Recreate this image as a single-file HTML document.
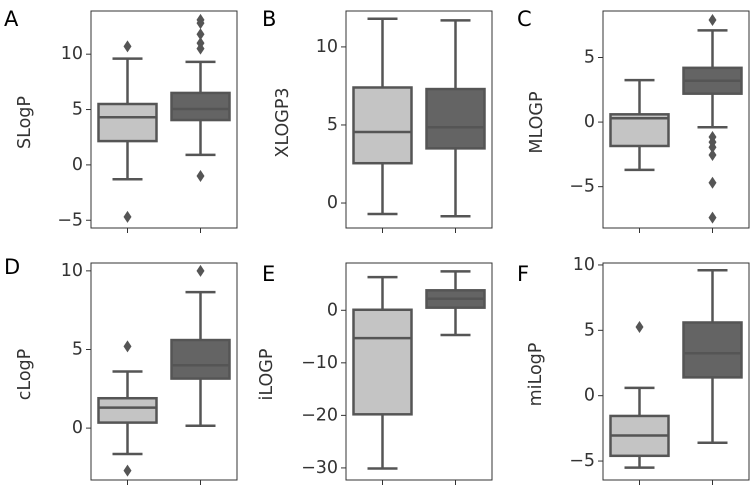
<!DOCTYPE html>
<html><head><meta charset="utf-8"><style>
body{margin:0;background:#fff;}
svg{display:block;font-family:"DejaVu Sans","Liberation Sans",sans-serif;}
</style></head><body>
<svg id="chart" width="751" height="490" viewBox="0 0 751 490" xmlns="http://www.w3.org/2000/svg"></svg>
<script>
// Data per panel: [whiskerLow, Q1, median, Q3, whiskerHigh]
const panelLetters = ["A","B","C","D","E","F"];
const yLabels = ["SLogP","XLOGP3","MLOGP","cLogP","iLOGP","miLogP"];
const tickValsA = [-5,0,5,10];
const tickValsB = [0,5,10];
const tickValsC = [-5,0,5];
const tickValsD = [0,5,10];
const tickValsE = [-30,-20,-10,0];
const tickValsF = [-5,0,5,10];
const yRanges = [[-5.7,13.9],[-1.6,12.3],[-8.2,8.6],[-3.3,10.5],[-32.3,9.0],[-6.45,10.15]];
const statsLight = [
  [-1.3,2.15,4.3,5.5,9.6],
  [-0.7,2.55,4.55,7.4,11.8],
  [-3.7,-1.85,0.3,0.6,3.25],
  [-1.65,0.35,1.3,1.9,3.6],
  [-30.1,-19.8,-5.3,0.1,6.3],
  [-5.5,-4.6,-3.05,-1.55,0.6]
];
const statsDark = [
  [0.9,4.05,5.05,6.5,9.3],
  [-0.85,3.5,4.85,7.3,11.7],
  [-0.4,2.2,3.2,4.2,7.1],
  [0.15,3.15,4.0,5.6,8.65],
  [-4.7,0.5,2.2,3.8,7.4],
  [-3.6,1.4,3.25,5.6,9.6]
];
const outliersLight = [[10.7,-4.7],[],[],[5.2,-2.7],[],[5.25]];
const outliersDark = [[10.5,11.0,11.8,12.8,13.1,-1.0],[],[7.9,-1.15,-1.55,-1.95,-2.55,-4.7,-7.4],[10.0],[],[]];
const tickSets = [tickValsA,tickValsB,tickValsC,tickValsD,tickValsE,tickValsF];

const NS="http://www.w3.org/2000/svg";
const svg=document.getElementById('chart');
function mk(tag,attrs,parent){const e=document.createElementNS(NS,tag);for(const k in attrs)e.setAttribute(k,attrs[k]);(parent||svg).appendChild(e);return e;}

const axLeft=[91,346,603,91,346,603];
const axTop=[11,11,11,263,263,263];
const axW=146, axH=217;
const letterPos=[[4,26],[262,26],[517,26],[4,274],[262,281],[517,281]];
const labelX=[25,283,537,25,267,536];

for(let p=0;p<6;p++){
  const g=mk('g',{});
  
  
  const L=axLeft[p],T=axTop[p],B=T+axH;
  const [lo,hi]=yRanges[p];
  const y=v=>B-(v-lo)/(hi-lo)*axH;
  const x=i=>L+axW/4+i*axW/2;
  const lt=mk('text',{x:letterPos[p][0],y:letterPos[p][1],'font-size':21,fill:'#000'},g);
  lt.textContent=panelLetters[p];
  
  
  const cy=T+axH/2+3;
  const yl=mk('text',{x:labelX[p],y:cy,'font-size':17.5,fill:'#333','text-anchor':'middle','dominant-baseline':'central',transform:`rotate(-90 ${labelX[p]} ${cy})`},g);
  yl.textContent=yLabels[p];
  
  
  tickSets[p].forEach(v=>{
    const yy=y(v);
    mk('line',{x1:L-5,x2:L,y1:yy,y2:yy,stroke:'#333','stroke-width':1},g);
    const t=mk('text',{x:L-8,y:yy,'font-size':17.5,fill:'#333','text-anchor':'end','dominant-baseline':'central'},g);
    t.textContent=(v<0?'\u2212'+Math.abs(v):String(v));
    
    
  });
  [0,1].forEach(i=>mk('line',{x1:x(i),x2:x(i),y1:B,y2:B+5,stroke:'#333','stroke-width':1},g));
  [[statsLight[p],outliersLight[p],'#c4c4c4'],[statsDark[p],outliersDark[p],'#646464']].forEach((d,i)=>{
    const [wl,q1,md,q3,wh]=d[0];
    const cx=x(i), hw=29, cw=15;
    const bg=mk('g',{},g);
    
    
    const st={stroke:'#555','stroke-width':2.5};
    mk('line',Object.assign({x1:cx,x2:cx,y1:y(wh),y2:y(q3)},st),bg);
    mk('line',Object.assign({x1:cx,x2:cx,y1:y(q1),y2:y(wl)},st),bg);
    mk('line',Object.assign({x1:cx-cw,x2:cx+cw,y1:y(wh),y2:y(wh)},st),bg);
    mk('line',Object.assign({x1:cx-cw,x2:cx+cw,y1:y(wl),y2:y(wl)},st),bg);
    mk('rect',Object.assign({x:cx-hw,y:y(q3),width:2*hw,height:y(q1)-y(q3),fill:d[2]},st),bg);
    mk('line',Object.assign({x1:cx-hw,x2:cx+hw,y1:y(md),y2:y(md)},st),bg);
    d[1].forEach(v=>{
      const yy=y(v);
      const o=mk('path',{d:`M${cx} ${yy-6}L${cx+4} ${yy}L${cx} ${yy+6}L${cx-4} ${yy}Z`,fill:'#555'},bg);
      
      
    });
  });
  mk('rect',{x:L,y:T,width:axW,height:axH,fill:'none',stroke:'#333','stroke-width':1},g);
}
</script>
</body></html>
